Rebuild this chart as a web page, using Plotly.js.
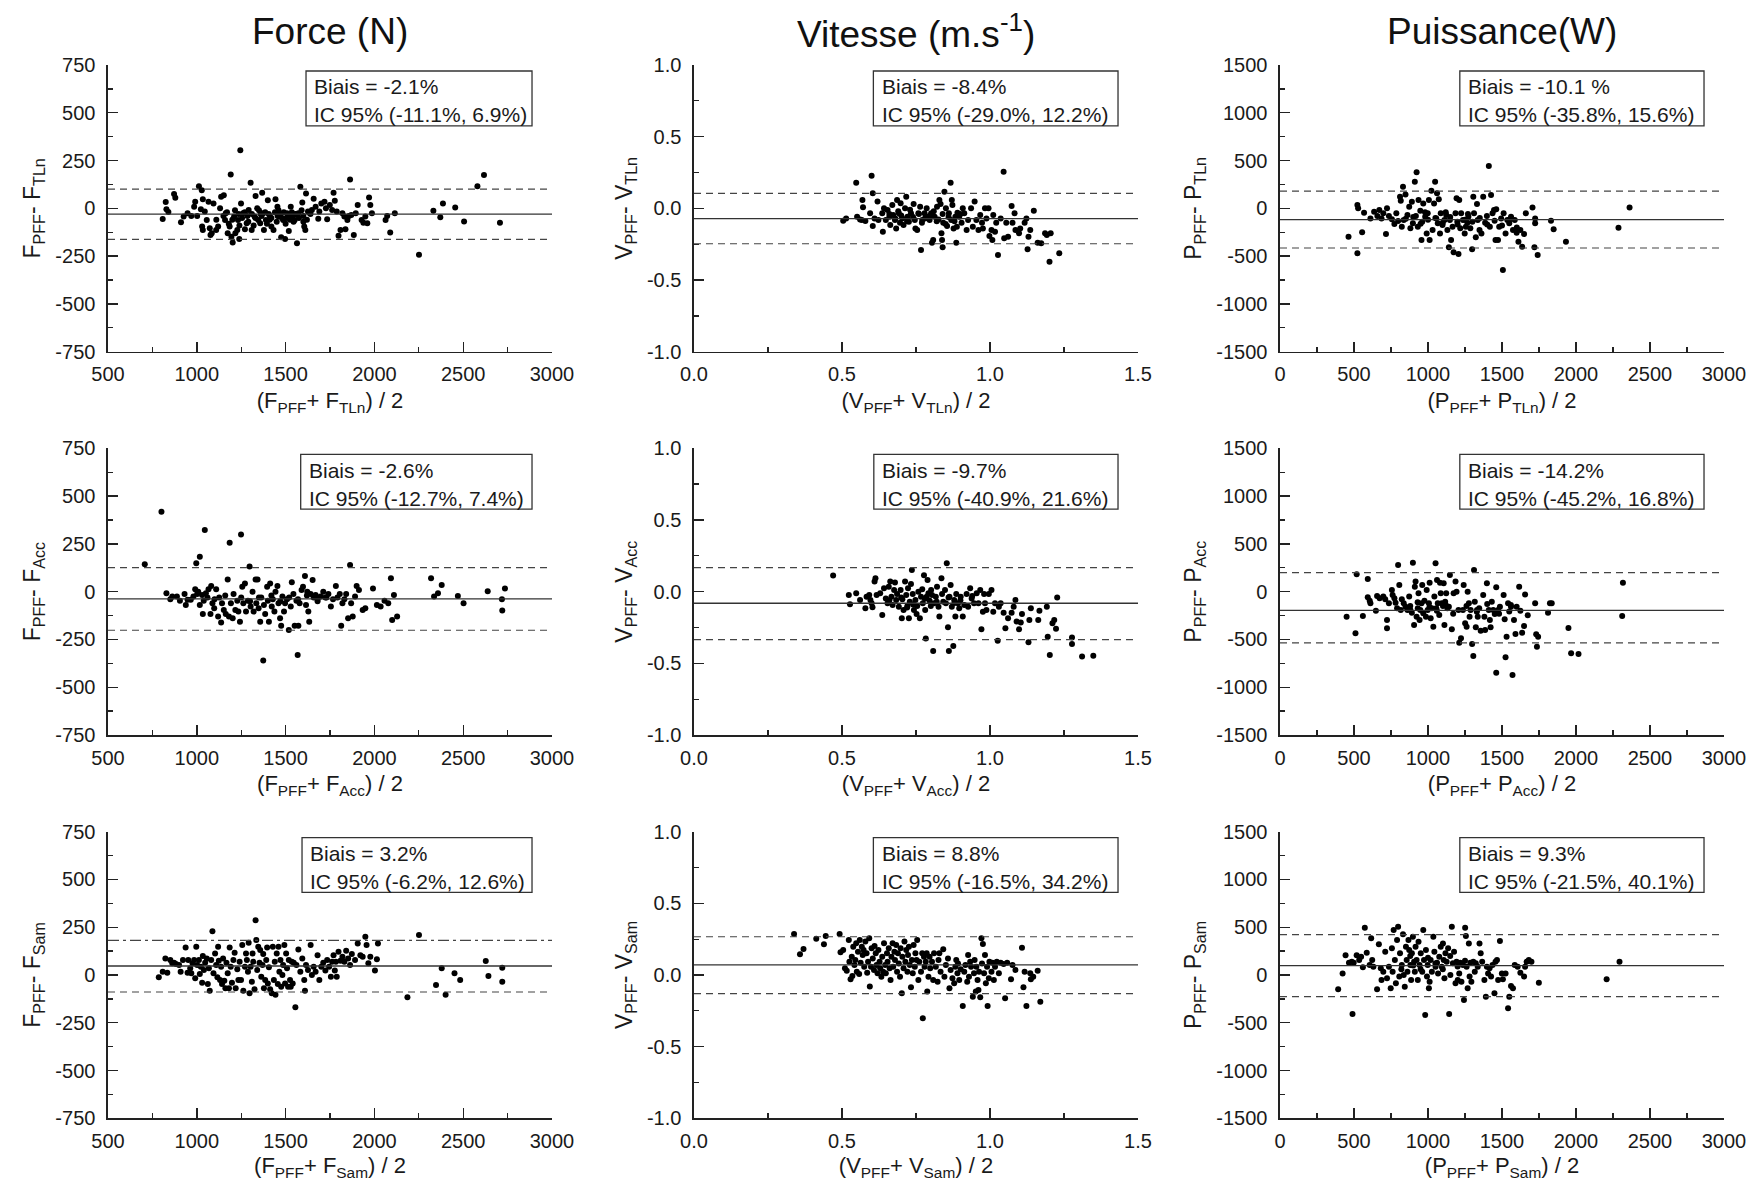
<!DOCTYPE html>
<html><head><meta charset="utf-8">
<script src="https://cdn.plot.ly/plotly-3.0.1.min.js"></script>
<style>html,body{margin:0;padding:0;background:#fff}#chart{width:1751px;height:1181px}</style>
</head><body><div id="chart"></div>
<script>
// ---------------- DATA ----------------
const columnTitles = ['Force (N)', 'Vitesse (m.s<sup>-1</sup>)', 'Puissance(W)'];
const columnSymbols = ['F', 'V', 'P'];
const rowRefs = ['TLn', 'Acc', 'Sam'];

// tick values / labels
const forceXTicks = [500, 1000, 1500, 2000, 2500, 3000];
const forceXTickText = ['500', '1000', '1500', '2000', '2500', '3000'];
const forceYTicks = [-750, -500, -250, 0, 250, 500, 750];
const forceYTickText = ['-750', '-500', '-250', '0', '250', '500', '750'];
const vitXTicks = [0, 0.5, 1, 1.5];
const vitXTickText = ['0.0', '0.5', '1.0', '1.5'];
const vitYTicks = [-1, -0.5, 0, 0.5, 1];
const vitYTickText = ['-1.0', '-0.5', '0.0', '0.5', '1.0'];
const puiXTicks = [0, 500, 1000, 1500, 2000, 2500, 3000];
const puiXTickText = ['0', '500', '1000', '1500', '2000', '2500', '3000'];
const puiYTicks = [-1500, -1000, -500, 0, 500, 1000, 1500];
const puiYTickText = ['-1500', '-1000', '-500', '0', '500', '1000', '1500'];

// bias and limits of agreement (rows: TLn, Acc, Sam)
const biasForce = [-30, -38, 47];
const upperForce = [101, 126, 181];
const lowerForce = [-162, -202, -89];
const biasVitesse = [-0.072, -0.081, 0.070];
const upperVitesse = [0.105, 0.167, 0.267];
const lowerVitesse = [-0.247, -0.335, -0.130];
const biasPuissance = [-119, -195, 98];
const upperPuissance = [181, 199, 422];
const lowerPuissance = [-415, -537, -227];

// annotation texts
const biaisText = [
  ['Biais = -2.1%', 'Biais = -8.4%', 'Biais = -10.1 %'],
  ['Biais = -2.6%', 'Biais = -9.7%', 'Biais = -14.2%'],
  ['Biais = 3.2%', 'Biais = 8.8%', 'Biais = 9.3%']
];
const icText = [
  ['IC 95% (-11.1%, 6.9%)', 'IC 95% (-29.0%, 12.2%)', 'IC 95% (-35.8%, 15.6%)'],
  ['IC 95% (-12.7%, 7.4%)', 'IC 95% (-40.9%, 21.6%)', 'IC 95% (-45.2%, 16.8%)'],
  ['IC 95% (-6.2%, 12.6%)', 'IC 95% (-16.5%, 34.2%)', 'IC 95% (-21.5%, 40.1%)']
];

// scatter points [mean, difference]
const forceTLn = [[808,-56],[825,33],[829,-5],[840,-19],[872,75],[879,56],[911,-73],[926,-43],[948,-26],[969,-40],[985,9],[991,35],[1002,-40],[1012,116],[1023,-5],[1028,95],[1034,47],[1030,-95],[1034,-113],[1045,-17],[1056,-61],[1066,35],[1073,-104],[1077,-139],[1084,-130],[1094,26],[1109,-113],[1120,-95],[1131,0],[1137,61],[1152,69],[1159,-61],[1163,-26],[1174,-130],[1185,-95],[1191,177],[1195,-148],[1202,-179],[1210,-43],[1217,-130],[1228,-113],[1239,-161],[1232,-61],[1245,304],[1249,26],[1260,-26],[1271,-109],[1281,-78],[1292,-9],[1303,134],[1309,-113],[1325,-43],[1331,64],[1340,0],[1346,-61],[1357,-78],[1368,82],[1374,-26],[1378,-113],[1389,-61],[1400,43],[1411,-40],[1420,-95],[1432,-113],[1443,47],[1454,9],[1464,-43],[1475,-151],[1486,-61],[1497,-161],[1508,-26],[1518,-118],[1529,9],[1540,-43],[1551,-61],[1564,-182],[1572,-26],[1583,113],[1594,30],[1605,-95],[1611,-113],[1615,78],[1626,-17],[1637,-26],[1648,-9],[1658,50],[1669,9],[1684,-54],[1690,-17],[1701,26],[1719,35],[1727,0],[1734,-57],[1749,17],[1762,-9],[1770,82],[1777,40],[1788,-17],[1798,-144],[1809,-113],[1820,-26],[1831,-43],[1837,-109],[1848,-61],[1857,-40],[1863,151],[1870,-35],[1884,-139],[1895,-26],[1906,17],[1928,-61],[1938,-75],[1949,-43],[1960,-78],[1970,57],[1977,17],[1986,-26],[2063,-61],[2072,-40],[2089,-127],[2115,-26],[2251,-243],[2332,-12],[2371,-47],[2386,26],[2455,5],[2505,-69],[2580,116],[2617,174],[2707,-75],[1150,-40],[1170,-20],[1200,-60],[1215,-10],[1235,-30],[1255,-50],[1270,-20],[1290,-70],[1310,-30],[1330,-50],[1350,-10],[1365,-40],[1385,-20],[1395,-80],[1405,-30],[1420,-50],[1440,-20],[1450,-70],[1460,-10],[1470,-30],[1480,-50],[1490,-20],[1500,-80],[1515,-40],[1525,-60],[1535,-20],[1545,-70],[1560,-30],[1575,-50],[1590,-10],[1600,-40],[1620,-60],[1640,-30],[1110,-60],[1180,-80],[1240,-90],[1285,-40],[1320,-90],[1360,-30],[1410,-60],[1455,-40],[1505,-50],[1555,-30],[1600,-70]];

const vitesseTLn = [[0.504,-0.086],[0.514,-0.070],[0.548,0.179],[0.551,-0.058],[0.561,-0.077],[0.569,0.058],[0.571,0.007],[0.567,-0.081],[0.579,-0.088],[0.595,-0.035],[0.600,0.228],[0.604,0.105],[0.604,-0.123],[0.610,-0.070],[0.620,0.047],[0.623,-0.081],[0.636,-0.035],[0.638,-0.163],[0.642,0.000],[0.648,-0.081],[0.654,-0.012],[0.660,-0.058],[0.663,-0.116],[0.670,0.023],[0.673,-0.047],[0.679,-0.081],[0.683,-0.140],[0.686,0.058],[0.692,-0.035],[0.696,-0.100],[0.698,0.035],[0.704,-0.070],[0.708,-0.116],[0.713,0.000],[0.717,0.081],[0.721,-0.058],[0.726,-0.093],[0.733,-0.035],[0.742,0.030],[0.746,-0.081],[0.748,-0.140],[0.754,-0.151],[0.758,-0.035],[0.764,0.012],[0.767,-0.291],[0.771,-0.081],[0.779,-0.035],[0.786,0.000],[0.788,-0.058],[0.796,-0.081],[0.801,-0.035],[0.804,-0.240],[0.808,-0.221],[0.813,-0.058],[0.821,0.012],[0.826,-0.077],[0.829,0.058],[0.833,0.030],[0.836,-0.174],[0.838,-0.221],[0.840,-0.272],[0.842,-0.100],[0.846,0.116],[0.851,0.000],[0.855,-0.123],[0.861,-0.035],[0.867,0.179],[0.869,-0.081],[0.871,0.058],[0.873,0.023],[0.877,-0.140],[0.883,-0.058],[0.886,-0.240],[0.888,-0.128],[0.896,-0.058],[0.904,-0.100],[0.908,0.000],[0.913,-0.035],[0.921,-0.151],[0.926,-0.081],[0.936,0.000],[0.942,-0.128],[0.948,0.047],[0.954,-0.081],[0.961,-0.151],[0.967,-0.047],[0.973,-0.100],[0.976,-0.140],[0.983,0.000],[0.988,-0.070],[0.995,0.000],[0.998,-0.193],[1.005,-0.151],[1.008,-0.221],[1.011,-0.047],[1.017,-0.163],[1.021,-0.100],[1.027,-0.326],[1.036,-0.070],[1.046,0.256],[1.048,-0.209],[1.055,-0.100],[1.061,-0.198],[1.073,0.016],[1.076,-0.100],[1.083,-0.035],[1.086,-0.151],[1.098,-0.174],[1.102,-0.140],[1.117,-0.100],[1.123,-0.070],[1.127,-0.286],[1.130,-0.198],[1.136,-0.151],[1.148,-0.016],[1.161,-0.240],[1.173,-0.244],[1.186,-0.174],[1.192,-0.186],[1.201,-0.372],[1.205,-0.174],[1.234,-0.314],[0.66,-0.04],[0.68,-0.07],[0.70,-0.05],[0.72,-0.09],[0.74,-0.06],[0.76,-0.04],[0.78,-0.07],[0.80,-0.05],[0.82,-0.09],[0.84,-0.04],[0.86,-0.06],[0.88,-0.09],[0.90,-0.04],[0.69,-0.02],[0.73,-0.01],[0.77,-0.10],[0.81,-0.02],[0.85,-0.11],[0.89,-0.03]];

const puissanceTLn = [[463,-296],[523,35],[528,0],[523,-471],[555,-251],[568,-45],[611,-105],[636,-35],[658,-80],[671,-17],[686,-105],[698,-52],[716,-269],[723,0],[736,-80],[756,-115],[773,-164],[786,-52],[798,-133],[811,122],[816,80],[823,-192],[831,227],[836,-122],[848,146],[861,-70],[873,17],[881,-209],[891,70],[898,-157],[911,279],[918,-80],[923,377],[931,-192],[936,87],[948,-24],[956,-331],[961,-140],[968,52],[981,-87],[991,-262],[998,-52],[1006,87],[1011,-331],[1023,185],[1031,-227],[1041,52],[1048,279],[1056,-105],[1061,157],[1066,-157],[1073,94],[1081,-262],[1086,-52],[1098,-174],[1111,-122],[1123,-70],[1131,-227],[1141,-408],[1148,-122],[1156,-331],[1166,-192],[1173,-460],[1186,-52],[1193,105],[1198,-140],[1206,-478],[1211,87],[1218,-209],[1224,-52],[1236,-122],[1248,-262],[1256,-192],[1266,-150],[1273,-87],[1286,-209],[1298,-429],[1306,122],[1311,-52],[1323,-303],[1331,45],[1336,-122],[1348,-227],[1361,-262],[1373,122],[1386,-150],[1398,-80],[1411,443],[1418,-192],[1426,140],[1436,-52],[1446,-17],[1456,-331],[1461,-10],[1473,-331],[1481,-192],[1494,-105],[1506,-645],[1511,-52],[1524,-262],[1536,-122],[1549,-157],[1561,-87],[1574,-227],[1586,-122],[1599,-255],[1611,-349],[1624,-227],[1636,-401],[1649,-269],[1661,-52],[1706,10],[1719,-408],[1724,-105],[1724,-157],[1741,-488],[1831,-129],[1849,-220],[1932,-349],[2287,-202],[2362,10],[850,-110],[900,-90],[950,-160],[1000,-120],[1050,-100],[1100,-150],[1150,-90],[1200,-170],[1250,-120],[1300,-140],[1350,-100],[1400,-170],[1450,-130],[1500,-180],[1550,-120],[1600,-200],[980,-40],[1120,-40],[1270,-60]];

const forceAcc = [[707,144],[801,418],[829,-9],[851,-40],[862,-26],[888,-26],[905,-47],[931,-12],[938,-70],[948,-43],[966,-43],[981,-26],[991,12],[997,148],[1002,-12],[1008,0],[1017,183],[1017,-70],[1030,-17],[1034,-117],[1039,-47],[1045,322],[1051,-9],[1060,-30],[1066,12],[1077,-117],[1081,30],[1088,-61],[1098,-87],[1109,12],[1120,-130],[1126,-30],[1137,-162],[1142,-61],[1152,-96],[1163,-117],[1174,64],[1181,-130],[1185,256],[1192,-61],[1202,-139],[1207,-12],[1217,-96],[1228,-47],[1234,-104],[1243,-157],[1249,299],[1256,26],[1262,-61],[1271,43],[1277,-104],[1288,-47],[1297,131],[1303,-78],[1314,0],[1320,-104],[1331,64],[1335,-61],[1342,64],[1348,-87],[1357,-157],[1363,-30],[1374,-360],[1378,-70],[1385,-117],[1396,26],[1400,-47],[1406,-157],[1413,43],[1422,-78],[1428,-40],[1437,-104],[1443,0],[1454,30],[1460,-61],[1469,-139],[1475,-179],[1482,-26],[1491,-104],[1497,-61],[1508,-40],[1518,-200],[1529,-78],[1535,49],[1544,-12],[1551,-179],[1561,-47],[1568,-331],[1572,-179],[1579,-61],[1590,9],[1598,26],[1609,82],[1615,-70],[1622,0],[1628,-104],[1633,-157],[1641,-12],[1652,61],[1658,-30],[1669,-17],[1680,-40],[1697,-26],[1712,0],[1724,-30],[1741,-12],[1755,-78],[1767,-40],[1783,30],[1792,-30],[1805,-12],[1813,-179],[1820,-61],[1831,-40],[1841,-12],[1852,-139],[1863,139],[1869,-61],[1878,-130],[1891,-26],[1900,30],[1913,9],[1934,-96],[1949,-87],[1992,16],[2014,-70],[2035,-78],[2057,-47],[2078,-61],[2093,70],[2100,-148],[2110,-17],[2128,-130],[2319,70],[2336,-26],[2358,-9],[2379,35],[2470,-23],[2502,-61],[2638,2],[2718,-40],[2720,-99],[2735,16],[1100,-40],[1160,-20],[1250,-30],[1300,-50],[1350,-30],[1420,-20],[1470,-50],[1520,-30],[1570,-40],[1620,-20],[1680,-50],[1730,-30]];

const vitesseAcc = [[0.470,0.112],[0.523,-0.023],[0.527,-0.088],[0.548,-0.012],[0.561,-0.058],[0.579,-0.116],[0.583,-0.035],[0.592,-0.023],[0.596,-0.058],[0.600,-0.081],[0.603,-0.109],[0.610,0.070],[0.613,0.093],[0.617,-0.023],[0.629,-0.012],[0.636,-0.163],[0.642,0.023],[0.648,-0.047],[0.654,-0.081],[0.658,0.035],[0.663,0.070],[0.667,-0.035],[0.671,-0.093],[0.676,0.012],[0.679,0.063],[0.683,-0.058],[0.686,-0.016],[0.692,-0.105],[0.698,0.012],[0.702,-0.186],[0.704,-0.053],[0.708,-0.128],[0.713,0.070],[0.717,-0.023],[0.721,-0.100],[0.723,0.023],[0.726,-0.186],[0.729,-0.070],[0.733,0.053],[0.736,0.151],[0.739,-0.016],[0.743,-0.128],[0.748,-0.058],[0.752,-0.156],[0.754,-0.100],[0.758,0.000],[0.763,-0.186],[0.767,-0.035],[0.771,0.016],[0.773,-0.081],[0.777,0.114],[0.781,-0.128],[0.783,-0.326],[0.786,-0.035],[0.789,0.081],[0.792,-0.012],[0.796,-0.063],[0.801,0.012],[0.804,-0.023],[0.808,-0.414],[0.811,-0.081],[0.817,-0.035],[0.821,0.035],[0.826,-0.105],[0.829,-0.174],[0.836,0.093],[0.838,-0.016],[0.842,-0.070],[0.848,0.012],[0.851,-0.081],[0.854,0.198],[0.858,-0.249],[0.861,-0.414],[0.863,-0.035],[0.867,0.047],[0.871,-0.105],[0.876,-0.379],[0.879,-0.058],[0.883,-0.174],[0.886,-0.016],[0.892,-0.081],[0.896,-0.116],[0.901,-0.035],[0.908,-0.174],[0.913,-0.093],[0.921,-0.016],[0.926,-0.105],[0.933,0.023],[0.938,-0.047],[0.946,-0.081],[0.955,-0.012],[0.961,-0.081],[0.967,0.012],[0.971,-0.263],[0.976,-0.140],[0.980,-0.016],[0.983,-0.081],[0.988,-0.128],[0.996,-0.016],[1.005,0.012],[1.011,-0.140],[1.017,-0.081],[1.026,-0.342],[1.030,-0.105],[1.036,-0.081],[1.046,-0.147],[1.052,-0.256],[1.061,-0.186],[1.073,-0.147],[1.080,-0.105],[1.086,-0.058],[1.090,-0.209],[1.098,-0.263],[1.104,-0.216],[1.108,-0.156],[1.130,-0.353],[1.133,-0.198],[1.138,-0.116],[1.163,-0.198],[1.167,-0.133],[1.192,-0.105],[1.195,-0.314],[1.202,-0.442],[1.211,-0.221],[1.217,-0.198],[1.223,-0.258],[1.227,-0.040],[1.277,-0.319],[1.277,-0.365],[1.311,-0.453],[1.349,-0.447],[0.66,-0.06],[0.70,-0.04],[0.74,-0.09],[0.78,-0.05],[0.82,-0.07],[0.86,-0.04],[0.90,-0.06],[0.94,-0.03],[0.72,-0.11],[0.80,-0.10],[0.88,-0.08]];

const puissanceAcc = [[450,-262],[510,-436],[518,181],[560,-255],[593,133],[593,-59],[606,-94],[611,-122],[648,-199],[656,-45],[673,-70],[698,-52],[711,-80],[723,-296],[723,-384],[736,-122],[756,17],[761,-35],[773,-70],[781,-115],[791,-174],[798,279],[806,70],[816,-192],[823,-80],[836,-122],[848,-157],[861,-192],[873,-52],[881,-192],[891,-220],[898,303],[906,-349],[911,52],[916,105],[923,-262],[931,-174],[936,-17],[943,-296],[948,-192],[956,-122],[961,70],[968,-227],[976,-94],[986,-262],[991,17],[998,-192],[1006,-122],[1011,94],[1018,-279],[1026,-174],[1036,-366],[1043,-52],[1051,296],[1056,-174],[1061,122],[1066,-122],[1076,-244],[1081,94],[1086,-17],[1093,-122],[1101,-150],[1106,87],[1111,-349],[1116,-105],[1123,-17],[1131,-174],[1141,-157],[1148,174],[1161,-394],[1173,-17],[1186,105],[1193,0],[1206,-192],[1211,-534],[1223,-488],[1236,-192],[1241,70],[1251,-331],[1261,-366],[1268,0],[1276,-122],[1281,-262],[1288,-192],[1298,-548],[1306,-673],[1311,227],[1316,-105],[1323,-373],[1331,-192],[1336,-262],[1346,-174],[1356,-408],[1373,-35],[1381,-262],[1386,-401],[1398,87],[1411,-192],[1418,-296],[1423,-373],[1431,-105],[1441,-192],[1451,-234],[1461,-848],[1461,45],[1474,-192],[1486,-157],[1511,-35],[1518,-290],[1524,-687],[1531,-471],[1541,-122],[1549,-209],[1561,-157],[1571,-872],[1581,-296],[1591,-443],[1599,-157],[1616,52],[1624,-199],[1636,-429],[1649,-359],[1656,-31],[1674,-248],[1724,-122],[1731,-446],[1736,-576],[1744,-471],[1811,-220],[1824,-122],[1836,-122],[1949,-380],[1967,-645],[2017,-652],[2317,94],[2312,-255],[880,-150],[930,-110],[1010,-160],[1060,-200],[1120,-140],[1170,-230],[1260,-150],[1330,-210],[1400,-130],[1480,-230],[1560,-140]];

const forceSam = [[786,-12],[808,17],[823,87],[834,12],[851,78],[862,61],[872,64],[883,57],[900,52],[909,17],[922,78],[937,144],[948,12],[952,78],[963,35],[969,9],[976,61],[985,78],[991,-17],[997,148],[1002,52],[1012,78],[1017,5],[1023,43],[1030,-40],[1034,99],[1040,26],[1047,64],[1056,87],[1062,-47],[1068,35],[1073,-82],[1081,78],[1088,229],[1094,9],[1103,113],[1109,52],[1116,-12],[1120,148],[1124,75],[1131,-26],[1137,43],[1142,-47],[1148,87],[1155,-30],[1161,-70],[1167,64],[1174,9],[1181,-70],[1185,144],[1191,43],[1198,-40],[1206,78],[1213,117],[1219,-70],[1228,30],[1234,-26],[1241,70],[1249,-26],[1256,157],[1262,-82],[1271,43],[1277,113],[1282,78],[1288,17],[1292,169],[1297,-96],[1303,43],[1310,-35],[1314,113],[1318,70],[1325,-75],[1331,287],[1335,183],[1340,26],[1346,148],[1353,64],[1357,131],[1363,-9],[1370,52],[1374,110],[1378,-70],[1385,-26],[1391,78],[1396,144],[1400,-44],[1406,40],[1413,-75],[1422,-96],[1428,148],[1434,-26],[1439,70],[1443,-104],[1450,113],[1456,-47],[1460,148],[1465,17],[1471,78],[1475,-61],[1482,0],[1486,52],[1493,157],[1497,-44],[1503,113],[1508,35],[1514,-61],[1518,78],[1525,-26],[1529,-61],[1535,70],[1540,-44],[1546,64],[1555,-169],[1561,52],[1572,134],[1583,17],[1594,87],[1605,-26],[1609,-82],[1615,52],[1626,26],[1641,157],[1648,0],[1658,43],[1669,17],[1680,104],[1690,-26],[1701,43],[1712,64],[1724,23],[1734,78],[1745,43],[1755,-9],[1762,70],[1770,104],[1777,23],[1783,70],[1788,-9],[1798,122],[1809,75],[1820,96],[1831,70],[1841,127],[1852,87],[1863,52],[1873,110],[1891,78],[1906,165],[1921,104],[1934,96],[1949,200],[1956,157],[1966,61],[1977,96],[2003,23],[2014,83],[2020,165],[2186,-117],[2251,209],[2347,-52],[2379,35],[2401,-104],[2451,9],[2483,-26],[2627,73],[2642,-5],[2720,38],[2720,-35]];

const vitesseSam = [[0.338,0.286],[0.358,0.144],[0.370,0.181],[0.413,0.253],[0.439,0.214],[0.445,0.272],[0.492,0.286],[0.495,0.158],[0.504,0.174],[0.510,0.047],[0.516,0.030],[0.523,0.244],[0.525,0.093],[0.529,-0.030],[0.533,0.128],[0.535,-0.007],[0.538,0.198],[0.542,0.070],[0.545,0.105],[0.548,0.221],[0.550,0.023],[0.554,0.163],[0.558,0.007],[0.560,0.244],[0.563,0.086],[0.567,0.198],[0.570,0.140],[0.573,0.174],[0.575,0.058],[0.579,0.233],[0.583,0.151],[0.585,0.016],[0.588,0.093],[0.592,0.256],[0.594,-0.081],[0.598,0.058],[0.600,0.186],[0.604,0.116],[0.608,0.035],[0.610,0.202],[0.614,0.151],[0.617,0.070],[0.620,0.012],[0.623,0.174],[0.627,0.093],[0.629,0.047],[0.633,-0.012],[0.636,0.128],[0.639,0.023],[0.642,0.221],[0.646,0.070],[0.648,0.012],[0.652,0.151],[0.654,0.093],[0.658,0.186],[0.661,0.047],[0.664,-0.035],[0.667,0.128],[0.671,0.221],[0.673,0.058],[0.677,0.163],[0.679,0.105],[0.683,0.209],[0.686,0.023],[0.689,0.151],[0.692,0.081],[0.696,-0.012],[0.698,0.186],[0.702,-0.128],[0.704,0.128],[0.708,0.047],[0.711,0.233],[0.714,0.093],[0.717,0.174],[0.721,0.023],[0.723,0.140],[0.726,0.198],[0.729,0.070],[0.733,-0.086],[0.736,0.105],[0.739,0.012],[0.742,0.209],[0.746,0.058],[0.748,0.151],[0.752,0.105],[0.754,0.244],[0.758,-0.035],[0.761,0.093],[0.767,0.023],[0.771,0.151],[0.773,-0.302],[0.777,0.128],[0.779,0.058],[0.783,0.093],[0.786,0.151],[0.788,-0.116],[0.792,-0.012],[0.796,0.128],[0.798,0.047],[0.804,0.093],[0.808,-0.035],[0.811,0.151],[0.817,0.058],[0.823,-0.047],[0.826,0.105],[0.829,0.151],[0.833,0.023],[0.842,0.179],[0.846,-0.012],[0.851,0.070],[0.858,0.116],[0.863,-0.093],[0.867,0.035],[0.873,-0.023],[0.879,-0.058],[0.883,0.058],[0.886,0.105],[0.890,0.012],[0.892,0.081],[0.896,-0.035],[0.901,0.040],[0.908,-0.216],[0.913,0.023],[0.917,0.070],[0.923,-0.047],[0.926,0.140],[0.929,-0.012],[0.933,0.093],[0.936,0.058],[0.942,-0.151],[0.946,0.012],[0.948,0.105],[0.952,-0.116],[0.954,0.058],[0.958,-0.035],[0.961,-0.105],[0.963,0.023],[0.967,-0.156],[0.971,0.256],[0.973,0.081],[0.976,0.216],[0.980,0.012],[0.983,0.140],[0.986,-0.058],[0.990,0.058],[0.992,-0.216],[0.996,-0.023],[0.998,0.093],[1.005,0.023],[1.008,0.086],[1.013,-0.035],[1.017,0.058],[1.023,0.093],[1.030,0.012],[1.036,0.086],[1.046,0.077],[1.051,-0.163],[1.058,0.086],[1.071,-0.030],[1.076,0.070],[1.086,0.035],[1.108,0.191],[1.113,-0.086],[1.117,0.023],[1.123,-0.216],[1.136,0.012],[1.138,-0.030],[1.146,-0.012],[1.161,0.030],[1.170,-0.186]];

const puissanceSam = [[393,-150],[423,17],[443,206],[466,129],[485,140],[490,-408],[498,129],[518,206],[535,157],[548,192],[560,80],[573,495],[586,234],[606,105],[616,384],[623,157],[631,87],[656,-150],[668,321],[681,70],[686,-52],[698,35],[711,244],[723,-35],[736,87],[748,-140],[756,279],[761,35],[768,471],[776,157],[783,-87],[791,366],[798,506],[806,-17],[811,227],[823,105],[831,426],[836,0],[843,-122],[851,296],[856,157],[861,35],[868,366],[873,262],[881,105],[886,-52],[891,227],[898,401],[906,140],[911,35],[916,296],[923,157],[931,-52],[936,349],[943,105],[951,227],[961,35],[968,471],[973,157],[981,-419],[986,262],[993,-17],[998,105],[1006,-140],[1011,-70],[1018,157],[1026,35],[1036,401],[1043,244],[1051,87],[1061,129],[1068,17],[1076,192],[1086,296],[1093,87],[1101,331],[1106,157],[1111,-35],[1118,227],[1126,140],[1136,279],[1143,-408],[1151,0],[1161,506],[1168,122],[1176,244],[1186,-87],[1193,140],[1201,-52],[1211,17],[1218,129],[1226,-70],[1236,105],[1243,-262],[1251,495],[1256,408],[1261,87],[1268,-140],[1276,331],[1281,-17],[1286,129],[1293,-70],[1306,140],[1316,35],[1323,122],[1336,87],[1348,331],[1356,227],[1366,140],[1381,-52],[1391,-227],[1398,87],[1406,17],[1416,70],[1426,-17],[1436,105],[1449,-192],[1456,140],[1466,157],[1474,-52],[1486,356],[1499,17],[1506,-45],[1524,17],[1541,-349],[1549,-227],[1561,-115],[1574,-140],[1586,105],[1606,87],[1624,24],[1649,-17],[1656,87],[1666,140],[1681,157],[1699,140],[1749,-80],[2207,-45],[2294,140],[900,100],[950,60],[1000,180],[1050,120],[1100,60],[1150,200],[1200,90],[1250,150],[820,60],[880,200]];

// ---------------- BUILD ----------------
const points = [
  [forceTLn, vitesseTLn, puissanceTLn],
  [forceAcc, vitesseAcc, puissanceAcc],
  [forceSam, vitesseSam, puissanceSam]
];
const biasAll = [biasForce, biasVitesse, biasPuissance];
const upperAll = [upperForce, upperVitesse, upperPuissance];
const lowerAll = [lowerForce, lowerVitesse, lowerPuissance];

const W = 1751, H = 1181;
const FONT = 'Liberation Sans, Arial, Helvetica, sans-serif';
const colPx = [[108, 552], [694, 1138], [1280, 1724]];
const rowPx = [[65, 351.7], [448.3, 735], [831.7, 1118.3]];
const colAxis = [
  {xr: [500, 3000], xt: forceXTicks, xtt: forceXTickText, xm: 250, yr: [-750, 750], yt: forceYTicks, ytt: forceYTickText, ym: 125},
  {xr: [0, 1.5], xt: vitXTicks, xtt: vitXTickText, xm: 0.25, yr: [-1, 1], yt: vitYTicks, ytt: vitYTickText, ym: 0.25},
  {xr: [0, 3000], xt: puiXTicks, xtt: puiXTickText, xm: 250, yr: [-1500, 1500], yt: puiYTicks, ytt: puiYTickText, ym: 250}
];
// box left edge (fraction of plot width) per panel
const boxLeft = [[0.446, 0.404, 0.405], [0.434, 0.405, 0.405], [0.437, 0.404, 0.405]];

const traces = [];
const layout = {
  width: W, height: H, autosize: false,
  margin: {l: 0, r: 0, t: 0, b: 0},
  paper_bgcolor: '#fff', plot_bgcolor: '#fff',
  showlegend: false,
  font: {family: FONT, color: '#1a1a1a'},
  shapes: [], annotations: []
};

const axisLine = {showline: true, linecolor: '#222', linewidth: 1.6, mirror: false,
  ticks: 'inside', ticklen: 10, tickwidth: 1.4, tickcolor: '#222',
  showgrid: false, zeroline: false, fixedrange: true, automargin: false,
  tickfont: {family: FONT, size: 20, color: '#1a1a1a'}};

for (let r = 0; r < 3; r++) {
  for (let c = 0; c < 3; c++) {
    const i = r * 3 + c + 1;
    const sfx = i === 1 ? '' : String(i);
    const xa = 'x' + sfx, ya = 'y' + sfx;
    const ca = colAxis[c];
    const sym = columnSymbols[c], ref = rowRefs[r];
    const pts = points[r][c];

    traces.push({
      type: 'scatter', mode: 'markers', xaxis: xa, yaxis: ya,
      x: pts.map(p => p[0]), y: pts.map(p => p[1]),
      marker: {size: 6, color: '#000'}, hoverinfo: 'x+y'
    });

    const xd = [colPx[c][0] / W, colPx[c][1] / W];
    const yd = [1 - rowPx[r][1] / H, 1 - rowPx[r][0] / H];

    layout['xaxis' + sfx] = Object.assign({}, axisLine, {
      domain: xd, range: ca.xr, anchor: ya,
      tickmode: 'array', tickvals: ca.xt, ticktext: ca.xtt,
      minor: {tickmode: 'linear', tick0: ca.xr[0], dtick: ca.xm, ticks: 'inside', ticklen: 5, tickwidth: 1.3, tickcolor: '#222'},
      ticklabelstandoff: 4,
      title: {text: '(' + sym + '<sub>PFF</sub>+ ' + sym + '<sub>' + ref + '</sub>) / 2',
              font: {family: FONT, size: 22, color: '#1a1a1a'}, standoff: 8}
    });
    layout['yaxis' + sfx] = Object.assign({}, axisLine, {
      domain: yd, range: ca.yr, anchor: xa,
      tickmode: 'array', tickvals: ca.yt, ticktext: ca.ytt,
      minor: {tickmode: 'linear', tick0: 0, dtick: ca.ym, ticks: 'inside', ticklen: 5, tickwidth: 1.3, tickcolor: '#222'},
      ticklabelstandoff: 7,
      title: {text: sym + '<sub>PFF</sub>- ' + sym + '<sub>' + ref + '</sub>',
              font: {family: FONT, size: 23, color: '#1a1a1a'}, standoff: 8}
    });

    // bias & limits of agreement
    const xdom = xa + ' domain';
    layout.shapes.push({type: 'line', xref: xdom, x0: 0, x1: 1, yref: ya,
      y0: biasAll[c][r], y1: biasAll[c][r], line: {color: '#333', width: 1.3}});
    layout.shapes.push({type: 'line', xref: xdom, x0: 0, x1: 1, yref: ya,
      y0: upperAll[c][r], y1: upperAll[c][r],
      line: {color: '#444', width: 1.2, dash: (r === 2 && c === 0) ? '11px,4px,3px,4px' : '7px,5px'}});
    layout.shapes.push({type: 'line', xref: xdom, x0: 0, x1: 1, yref: ya,
      y0: lowerAll[c][r], y1: lowerAll[c][r], line: {color: '#444', width: 1.2, dash: '7px,5px'}});

    // box with bias text
    const bl = boxLeft[r][c];
    layout.shapes.push({type: 'rect', xref: xdom, yref: ya + ' domain',
      x0: bl, x1: 0.955, y0: 0.788, y1: 0.979, line: {color: '#333', width: 1.3}, fillcolor: 'rgba(0,0,0,0)'});
    layout.annotations.push({xref: xdom, yref: ya + ' domain', x: bl + 0.014, y: 0.924,
      xanchor: 'left', yanchor: 'middle', showarrow: false, text: biaisText[r][c],
      font: {family: FONT, size: 21, color: '#1a1a1a'}});
    layout.annotations.push({xref: xdom, yref: ya + ' domain', x: bl + 0.014, y: 0.826,
      xanchor: 'left', yanchor: 'middle', showarrow: false, text: icText[r][c],
      font: {family: FONT, size: 21, color: '#1a1a1a'}});
  }
}

// column titles
for (let c = 0; c < 3; c++) {
  layout.annotations.push({xref: 'paper', yref: 'paper',
    x: (colPx[c][0] + colPx[c][1]) / 2 / W, y: 1 - 31 / H,
    xanchor: 'center', yanchor: 'middle', showarrow: false,
    text: columnTitles[c], font: {family: FONT, size: 37, color: '#111'}});
}

Plotly.newPlot('chart', traces, layout, {staticPlot: true, displayModeBar: false});
</script>
</body></html>
